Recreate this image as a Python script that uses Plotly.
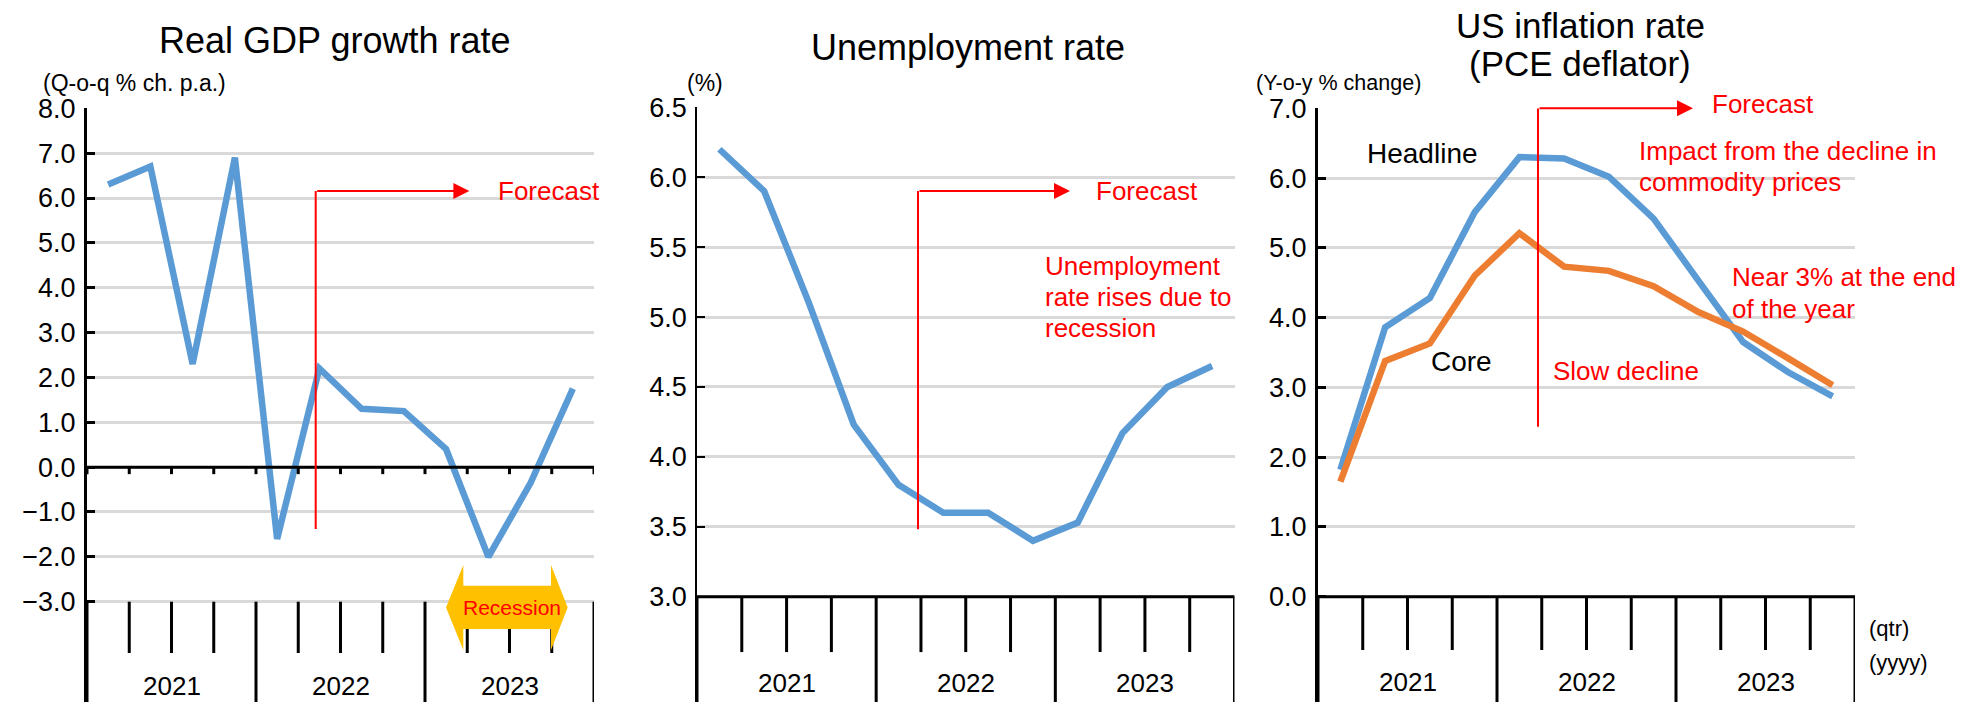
import plotly.graph_objects as go

W, H = 1979, 702

# ---------------- data ----------------
quarters = ["2021Q1", "2021Q2", "2021Q3", "2021Q4",
            "2022Q1", "2022Q2", "2022Q3", "2022Q4",
            "2023Q1", "2023Q2", "2023Q3", "2023Q4"]
years = ["2021", "2022", "2023"]

gdp_growth = [6.3, 6.7, 2.3, 6.9, -1.6, 2.2, 1.3, 1.25, 0.4, -2.0, -0.35, 1.75]
unemployment = [6.2, 5.9, 5.1, 4.23, 3.8, 3.6, 3.6, 3.4, 3.53, 4.17, 4.5, 4.65]
pce_headline = [1.82, 3.86, 4.28, 5.51, 6.3, 6.28, 6.02, 5.42, 4.53, 3.65, 3.22, 2.87]
pce_core = [1.65, 3.38, 3.63, 4.6, 5.21, 4.73, 4.67, 4.45, 4.08, 3.8, 3.42, 3.03]

gdp_ticks = [-3.0, -2.0, -1.0, 0.0, 1.0, 2.0, 3.0, 4.0, 5.0, 6.0, 7.0, 8.0]
unemp_ticks = [3.0, 3.5, 4.0, 4.5, 5.0, 5.5, 6.0, 6.5]
pce_ticks = [0.0, 1.0, 2.0, 3.0, 4.0, 5.0, 6.0, 7.0]

# ---------------- style ----------------
FONT = "Liberation Sans, Arial, Helvetica, sans-serif"
BLUE = "#5B9BD5"
ORANGE = "#ED7D31"
GRID = "#D9D9D9"
RED = "#FF0000"
AMBER = "#FFC000"
LINE_W = 6.5


def px(x):
    return x / W


def py(y):
    return 1 - y / H


fig = go.Figure()

fig.add_trace(go.Scatter(x=quarters, y=gdp_growth, xaxis="x", yaxis="y", mode="lines",
                         line=dict(color=BLUE, width=LINE_W), showlegend=False, hoverinfo="skip"))
fig.add_trace(go.Scatter(x=quarters, y=unemployment, xaxis="x2", yaxis="y2", mode="lines",
                         line=dict(color=BLUE, width=LINE_W), showlegend=False, hoverinfo="skip"))
fig.add_trace(go.Scatter(x=quarters, y=pce_headline, xaxis="x3", yaxis="y3", mode="lines",
                         line=dict(color=BLUE, width=LINE_W), showlegend=False, hoverinfo="skip"))
fig.add_trace(go.Scatter(x=quarters, y=pce_core, xaxis="x3", yaxis="y3", mode="lines",
                         line=dict(color=ORANGE, width=LINE_W), showlegend=False, hoverinfo="skip"))

# panel geometry (pixels) and value ranges
panels = [
    dict(xa="xaxis", ya="yaxis", xr="x", yr="y", left=87, right=594, top=108.3,
         rng=[-5.236, 8.0], ticks=gdp_ticks, lw=3, box_top=-3.0, qbot=-4.144),
    dict(xa="xaxis2", ya="yaxis2", xr="x2", yr="y2", left=697, right=1234.5, top=107.3,
         rng=[2.247, 6.5], ticks=unemp_ticks, lw=1.5, box_top=3.0, qbot=2.604),
    dict(xa="xaxis3", ya="yaxis3", xr="x3", yr="y3", left=1318, right=1855, top=108.3,
         rng=[-1.509, 7.0], ticks=pce_ticks, lw=3, box_top=0.0, qbot=-0.764),
]

layout = dict(template="none", width=W, height=H,
              margin=dict(l=0, r=0, t=0, b=0, pad=0, autoexpand=False),
              paper_bgcolor="white", plot_bgcolor="white", showlegend=False,
              font=dict(family=FONT, color="black"))

shapes = []
for p in panels:
    layout[p["xa"]] = dict(domain=[px(p["left"]), px(p["right"])], anchor=p["yr"],
                           type="category", categoryorder="array", categoryarray=quarters,
                           range=[-0.5, len(quarters) - 0.5], showticklabels=False,
                           showgrid=False, zeroline=False, showline=False, ticks="",
                           automargin=False, fixedrange=True)
    layout[p["ya"]] = dict(domain=[0, py(p["top"])], anchor=p["xr"], range=p["rng"],
                           tickvals=p["ticks"], tickformat=".1f", showgrid=True,
                           gridcolor=GRID, gridwidth=2.5, zeroline=False, showline=True,
                           linecolor="black", linewidth=p["lw"], ticks="inside", ticklen=8,
                           tickwidth=p["lw"], tickcolor="black",
                           tickfont=dict(size=27, color="black", family=FONT),
                           ticklabelstandoff=3, automargin=False, fixedrange=True)
    # category box: quarter ticks and year dividers
    for k in range(len(quarters) + 1):
        xb = k - 0.5
        ybot = p["rng"][0] if k % 4 == 0 else p["qbot"]
        shapes.append(dict(type="line", xref=p["xr"], yref=p["yr"], x0=xb, x1=xb,
                           y0=p["box_top"], y1=ybot, line=dict(color="black", width=3)))

# black baselines
shapes.append(dict(type="line", xref="x", yref="y", x0=-0.5, x1=11.5, y0=0, y1=0,
                   line=dict(color="black", width=3)))
for k in range(len(quarters) + 1):
    shapes.append(dict(type="line", xref="x", yref="y", x0=k - 0.5, x1=k - 0.5, y0=0, y1=-0.156,
                       line=dict(color="black", width=3)))
shapes.append(dict(type="line", xref="x2", yref="y2", x0=-0.5, x1=11.5, y0=3.0, y1=3.0,
                   line=dict(color="black", width=3)))
shapes.append(dict(type="line", xref="x3", yref="y3", x0=-0.5, x1=11.5, y0=0, y1=0,
                   line=dict(color="black", width=3)))

# forecast markers (vertical red lines)
forecast = [
    dict(xr="x", yr="y", x=4.913, y0=-1.38, y1=6.156, tip=8.55),
    dict(xr="x2", yr="y2", x=4.434, y0=3.483, y1=5.901, tip=7.828),
    dict(xr="x3", yr="y3", x=4.416, y0=2.437, y1=7.0, tip=7.88),
]
annotations = []
for f in forecast:
    shapes.append(dict(type="line", xref=f["xr"], yref=f["yr"], x0=f["x"], x1=f["x"],
                       y0=f["y0"], y1=f["y1"], line=dict(color=RED, width=2)))
    annotations.append(dict(xref=f["xr"], yref=f["yr"], axref=f["xr"], ayref=f["yr"],
                            x=f["tip"], y=f["y1"], ax=f["x"], ay=f["y1"], text="",
                            showarrow=True, arrowhead=2, arrowsize=1.6, arrowwidth=2,
                            arrowcolor=RED))


# recession block arrow (paper coordinates)
def P(x, y):
    return f"{px(x):.5f},{py(y):.5f}"


rec_path = ("M " + P(446, 607.5) + " L " + P(463.3, 565) + " L " + P(463.3, 585.7) +
            " L " + P(551, 585.7) + " L " + P(551, 565) + " L " + P(567.7, 607.5) +
            " L " + P(551, 650) + " L " + P(551, 629) + " L " + P(463.3, 629) +
            " L " + P(463.3, 650) + " Z")
shapes.append(dict(type="path", xref="paper", yref="paper", path=rec_path,
                   fillcolor=AMBER, line=dict(width=0)))


def txt(text, x, y, size, color="black", xanchor="center"):
    annotations.append(dict(xref="paper", yref="paper", x=px(x), y=py(y), text=text,
                            showarrow=False, xanchor=xanchor, yanchor="middle",
                            font=dict(size=size, color=color, family=FONT)))


# titles
txt("Real GDP growth rate", 335, 41, 36)
txt("Unemployment rate", 968, 48, 36)
txt("US inflation rate", 1580, 26, 35)
txt("(PCE deflator)", 1580, 63, 35)

# unit notes
txt("(Q-o-q % ch. p.a.)", 41, 83, 23, xanchor="left")
txt("(%)", 685, 83, 23, xanchor="left")
txt("(Y-o-y % change)", 1254, 83, 21.5, xanchor="left")

# year labels
for p, yy in zip(panels, [686, 683, 682]):
    for i, yr in enumerate(years):
        annotations.append(dict(xref=p["xr"], yref="paper", x=4 * i + 1.5, y=py(yy), text=yr,
                                showarrow=False, xanchor="center", yanchor="middle",
                                font=dict(size=26, color="black", family=FONT)))

txt("(qtr)", 1867, 628, 22, xanchor="left")
txt("(yyyy)", 1867, 662, 22, xanchor="left")

# red annotations
txt("Forecast", 549, 191, 26, RED)
txt("Forecast", 1147, 191, 26, RED)
txt("Forecast", 1763, 104, 26, RED)
txt("Recession", 512, 607.5, 21, RED)
txt("Unemployment", 1043, 266, 26, RED, "left")
txt("rate rises due to", 1043, 297, 26, RED, "left")
txt("recession", 1043, 328, 26, RED, "left")
txt("Impact from the decline in", 1637, 151, 26, RED, "left")
txt("commodity prices", 1637, 182, 26, RED, "left")
txt("Near 3% at the end", 1730, 277, 26, RED, "left")
txt("of the year", 1730, 309, 26, RED, "left")
txt("Slow decline", 1551, 371, 26, RED, "left")

# series labels
txt("Headline", 1422, 153, 28)
txt("Core", 1461, 361, 28)

layout["shapes"] = shapes
layout["annotations"] = annotations
fig.update_layout(**layout)

fig.write_html("out.html")
